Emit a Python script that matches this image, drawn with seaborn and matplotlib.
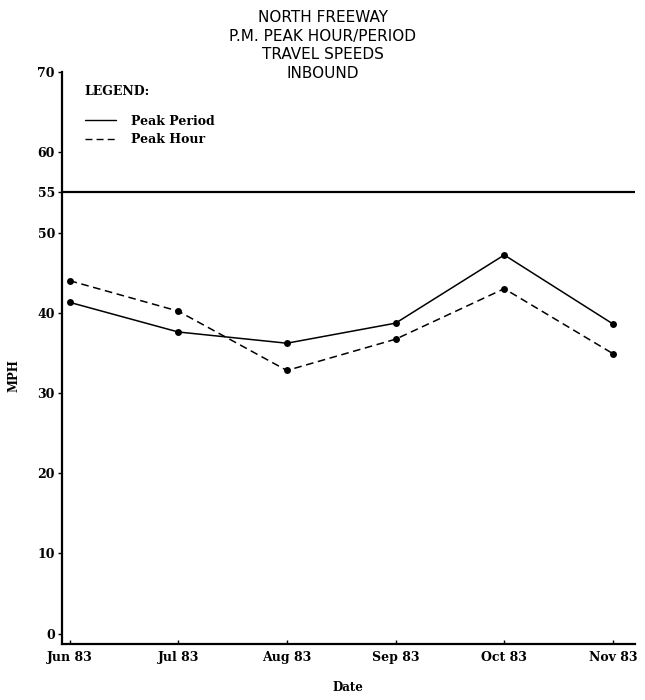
import matplotlib
matplotlib.use("Agg")
import matplotlib.pyplot as plt
import pandas as pd
import seaborn as sns

months = ["Jun 83", "Jul 83", "Aug 83", "Sep 83", "Oct 83", "Nov 83"]
peak_period = [41.3, 37.6, 36.2, 38.7, 47.2, 38.6]
peak_hour = [44.0, 40.2, 32.8, 36.7, 43.0, 34.9]
speed_limit = 55
y_ticks = [0, 10, 20, 30, 40, 50, 55, 60, 70]

df = pd.DataFrame({
    "pos": list(range(len(months))) * 2,
    "mph": peak_period + peak_hour,
    "series": ["Peak Period"] * len(months) + ["Peak Hour"] * len(months),
})

sns.set_style("ticks")
plt.rcParams["font.family"] = ["DejaVu Sans"]
plt.rcParams["text.color"] = "black"
plt.rcParams["xtick.color"] = "black"
plt.rcParams["ytick.color"] = "black"
plt.rcParams["axes.labelcolor"] = "black"

fig = plt.figure(figsize=(6.45, 7), dpi=100)
ax = fig.add_axes([0.096, 0.08, 0.888, 0.817])

sns.lineplot(data=df, x="pos", y="mph", style="series",
             dashes={"Peak Period": "", "Peak Hour": (5, 3)},
             color="black", linewidth=1.1, marker="o", markersize=5,
             markeredgewidth=0, ax=ax, legend=True)

# 55 mph speed limit
ax.axhline(speed_limit, color="black", linewidth=1.6)

ax.set_xlim(-0.07, 5.2)
ax.set_ylim(-1.3, 70)
ax.set_xticks(range(len(months)))
ax.set_xticklabels(months)
ax.set_yticks(y_ticks)
ax.set_yticklabels([str(t) for t in y_ticks])
for lab in ax.get_xticklabels() + ax.get_yticklabels():
    lab.set_family("DejaVu Serif")
    lab.set_fontweight("bold")
    lab.set_fontsize(9)
ax.tick_params(axis="both", length=3, width=1, color="black", pad=2)
ax.tick_params(axis="x", direction="in", pad=5)

for side in ["top", "right"]:
    ax.spines[side].set_visible(False)
for side in ["left", "bottom"]:
    ax.spines[side].set_linewidth(1.6)
    ax.spines[side].set_color("black")

ax.set_xlabel("Date", family="DejaVu Serif", fontweight="bold", fontsize=8.5, labelpad=12)
ax.set_ylabel("MPH", family="DejaVu Serif", fontweight="bold", fontsize=8.5)
ax.yaxis.set_label_coords(-0.072, 0.47)

leg = ax.legend(title="LEGEND:", loc="upper left", bbox_to_anchor=(0.02, 0.997),
                frameon=False, handlelength=2.5, handletextpad=1.2,
                labelspacing=0.45, alignment="left",
                prop={"family": "DejaVu Serif", "weight": "bold", "size": 9})
leg.get_title().set_family("DejaVu Serif")
leg.get_title().set_fontweight("bold")
leg.get_title().set_fontsize(9)
leg._legend_box.sep = 12
for h in leg.legend_handles:
    h.set_marker("")
    h.set_linewidth(1.0)

title_lines = ["NORTH FREEWAY", "P.M. PEAK HOUR/PERIOD", "TRAVEL SPEEDS", "INBOUND"]
for i, line in enumerate(title_lines):
    fig.text(0.5, 0.975 - i * 0.0265, line, ha="center", va="center",
             fontsize=11, family="DejaVu Sans", color="black")

fig.savefig("out.png", dpi=100)
